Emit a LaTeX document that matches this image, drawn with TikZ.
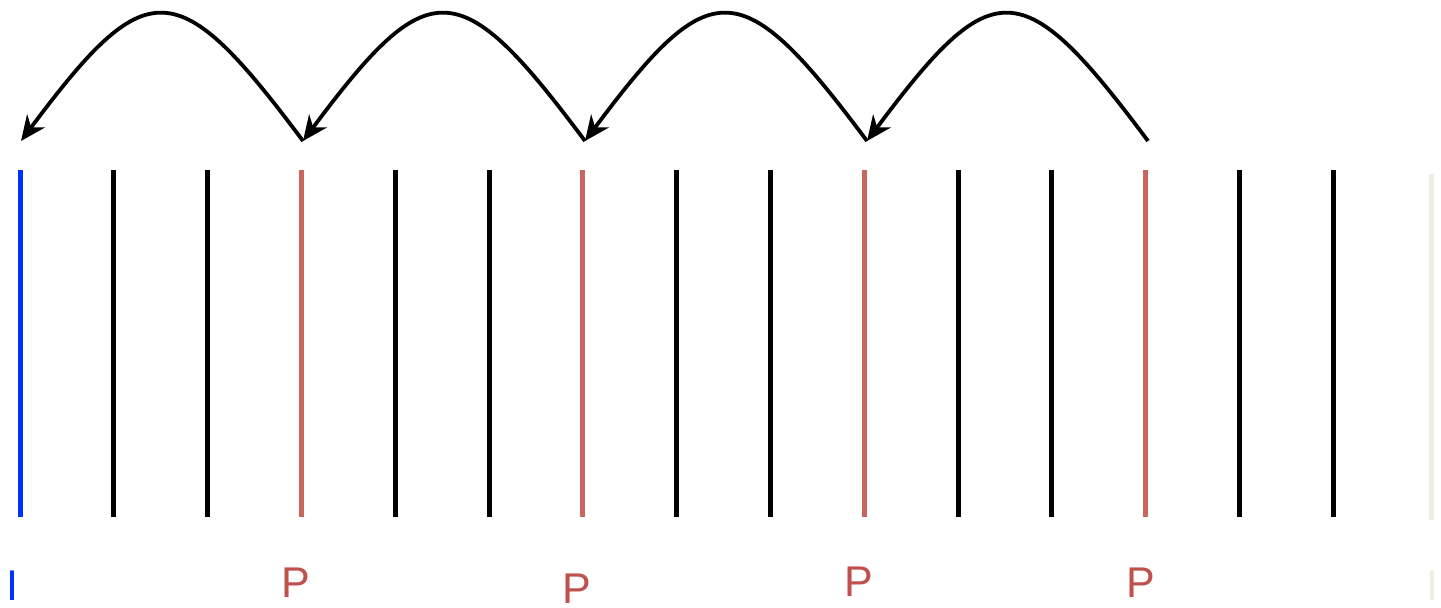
\documentclass[tikz,border=0pt]{standalone}
\usepackage{fontspec}
\setmainfont{Liberation Sans}
\usetikzlibrary{arrows.meta}
\definecolor{pred}{RGB}{200,102,94}
\definecolor{ptext}{RGB}{192,80,77}
\definecolor{iblue}{RGB}{0,50,255}
\definecolor{faint}{RGB}{239,238,227}
\begin{document}
\begin{tikzpicture}[x=1pt,y=-1pt,
  bar/.style={line width=5pt},
  hop/.style={line width=3.8pt,-{Stealth[length=25pt,width=22pt,inset=8pt]}},
  lbl/.style={anchor=base,inner sep=0pt,font=\fontsize{43}{43}\selectfont}]
\useasboundingbox (0,0) rectangle (1441,608);
% vertical bars
\foreach \i in {0,...,14}{
  \pgfmathsetmacro{\xx}{20+93.8*\i}
  \coordinate (top\i) at (\xx,170);
  \coordinate (bot\i) at (\xx,517);
}
\draw[bar,iblue] (top0) -- (bot0);
\foreach \i in {1,2,4,5,7,8,10,11,13,14}{\draw[bar,black] (top\i) -- (bot\i);}
\foreach \i in {3,6,9,12}{\draw[bar,pred] (top\i) -- (bot\i);}
\coordinate (ftop) at (1431,174);
\coordinate (fbot) at (1431,520);
\draw[bar,faint] (ftop) -- (fbot);
% arc anchors
\coordinate (a0) at (21,141);
\coordinate (a1) at (303,141);
\coordinate (a2) at (585,141);
\coordinate (a3) at (867,141);
\coordinate (a4) at (1148,141);
\draw[hop] (a4) .. controls +(-126,-169) and +(126,-169) .. (a3);
\draw[hop] (a3) .. controls +(-126,-169) and +(126,-169) .. (a2);
\draw[hop] (a2) .. controls +(-126,-169) and +(126,-169) .. (a1);
\draw[hop] (a1) .. controls +(-126,-169) and +(126,-169) .. (a0);
% labels
\node[lbl,text=iblue] (lI) at (12.5,600) {I};
\node[lbl,text=ptext] (p1) at (296,597) {P};
\node[lbl,text=ptext] (p2) at (577,603) {P};
\node[lbl,text=ptext] (p3) at (859,596) {P};
\node[lbl,text=ptext] (p4) at (1141,597) {P};
\node[lbl,text=faint] (lI2) at (1432,600) {I};
\end{tikzpicture}
\end{document}
